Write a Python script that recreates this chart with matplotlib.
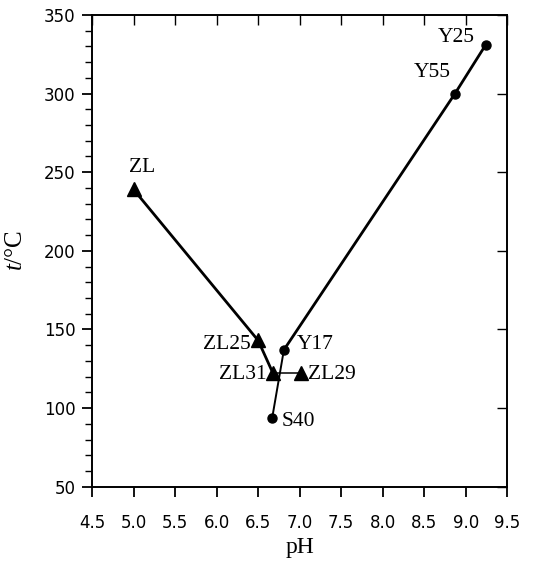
import matplotlib
matplotlib.use("Agg")
import matplotlib.pyplot as plt
from matplotlib.ticker import MultipleLocator

plt.rcParams['mathtext.fontset'] = 'custom'
plt.rcParams['mathtext.it'] = 'Liberation Serif:italic'
plt.rcParams['mathtext.rm'] = 'Liberation Serif'

# triangle series (ZL group)
zl_names = ["ZL", "ZL25", "ZL31", "ZL29"]
zl_ph = [5.0, 6.5, 6.68, 7.02]
zl_t = [239, 143, 122, 122]

# circle series (S/Y group)
y_names = ["S40", "Y17", "Y55", "Y25"]
y_ph = [6.67, 6.81, 8.87, 9.24]
y_t = [94, 137, 300, 331]

# label offsets in points and alignment
zl_offsets = [((6, 16), "center"), ((-5, -3), "right"), ((-5, -1), "right"), ((5, -1), "left")]
y_offsets = [((7, -3), "left"), ((9, 4), "left"), ((-3, 15), "right"), ((-8, 5), "right")]

fig = plt.figure(figsize=(5.53, 5.63), dpi=100)
ax = fig.add_axes([0.1664, 0.1355, 0.751, 0.838])

# thick main branches, thin short links
ax.plot(zl_ph[:3], zl_t[:3], color="black", lw=2.0)
ax.plot(zl_ph[2:], zl_t[2:], color="black", lw=1.1)
ax.plot(y_ph[:2], y_t[:2], color="black", lw=1.4)
ax.plot(y_ph[1:], y_t[1:], color="black", lw=2.0)
ax.plot(zl_ph, zl_t, ls="none", color="black", marker="^", markersize=10)
ax.plot(y_ph, y_t, ls="none", color="black", marker="o", markersize=6.5)

for names, xs, ys, offs in [(zl_names, zl_ph, zl_t, zl_offsets), (y_names, y_ph, y_t, y_offsets)]:
    for n, x, y, (off, ha) in zip(names, xs, ys, offs):
        ax.annotate(n, (x, y), xytext=off, textcoords="offset points",
                    ha=ha, va="center", fontsize=15.5, family="Liberation Serif")

ax.set_xlim(4.5, 9.5)
ax.set_ylim(50, 350)
ax.xaxis.set_major_locator(MultipleLocator(0.5))
ax.yaxis.set_major_locator(MultipleLocator(50))
ax.yaxis.set_minor_locator(MultipleLocator(10))
ax.set_xticklabels([f"{v:.1f}" for v in ax.get_xticks()])

ax.tick_params(axis="both", which="major", direction="out", length=7, width=1.3,
               labelsize=12)
ax.tick_params(axis="x", which="major", pad=13)
ax.tick_params(axis="y", which="major", pad=5)
ax.tick_params(axis="y", which="minor", direction="out", length=5, width=1.0)
for lab in ax.get_xticklabels() + ax.get_yticklabels():
    lab.set_family("DejaVu Sans")

# inward ticks on top and right
top = ax.secondary_xaxis("top")
top.xaxis.set_major_locator(MultipleLocator(0.5))
top.tick_params(direction="in", length=7, width=1.0, labeltop=False)
right = ax.secondary_yaxis("right")
right.yaxis.set_major_locator(MultipleLocator(50))
right.tick_params(direction="in", length=7, width=1.0, labelright=False)

for sp in ax.spines.values():
    sp.set_linewidth(1.4)
top.spines["top"].set_visible(False)
right.spines["right"].set_visible(False)

ax.set_xlabel("pH", fontsize=17, family="Liberation Serif", labelpad=3)
ax.set_ylabel(r"$t$/°C", fontsize=18, family="Liberation Serif", labelpad=12)

fig.savefig("out.png", dpi=100)
